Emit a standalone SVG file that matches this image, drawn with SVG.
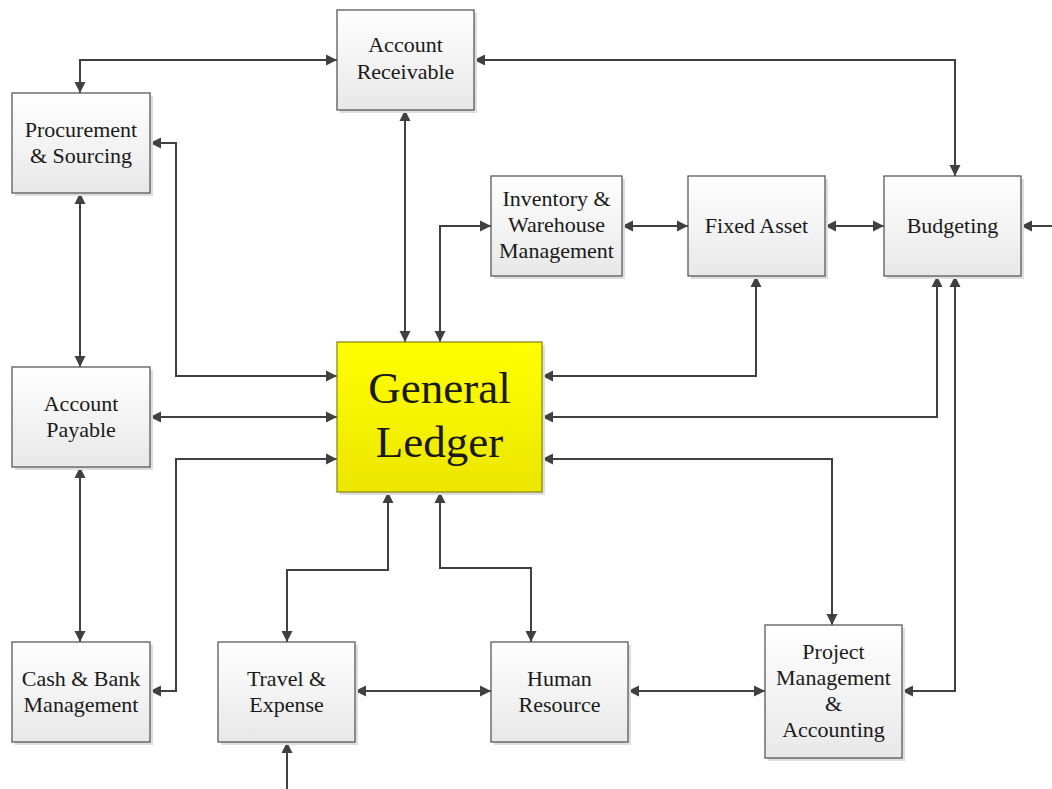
<svg xmlns="http://www.w3.org/2000/svg" width="1052" height="789" viewBox="0 0 1052 789">
<style>
.box{fill:url(#gbox);stroke:#595959;stroke-width:1.3}
.gl{fill:url(#gyel);stroke:#8a8a1a;stroke-width:1.3}
.sh{fill:#dedede}
.t{font-family:"Liberation Serif","Times New Roman",serif;font-size:22px;fill:#1a1a1a;text-anchor:middle}
.tg{font-family:"Liberation Serif","Times New Roman",serif;font-size:45px;fill:#1a1a1a;text-anchor:middle}
.c{fill:none;stroke:#404040;stroke-width:2;marker-end:url(#ah)}
.c2{marker-start:url(#ah)}
</style>
<defs>
<linearGradient id="gbox" x1="0" y1="0" x2="0" y2="1"><stop offset="0" stop-color="#ffffff"/><stop offset="1" stop-color="#e8e8e8"/></linearGradient>
<linearGradient id="gyel" x1="0" y1="0" x2="0" y2="1"><stop offset="0" stop-color="#ffff00"/><stop offset="1" stop-color="#ece600"/></linearGradient>
<marker id="ah" markerUnits="userSpaceOnUse" markerWidth="12" markerHeight="12" viewBox="0 0 12 12" refX="11" refY="6" orient="auto-start-reverse"><path d="M0,0.5 L11,6 L0,11.5 z" fill="#404040"/></marker>
</defs>
<rect width="1052" height="789" fill="#ffffff"/>
<g id="connectors">
<path class="c c2" d="M337,60 H80 V93"/>
<path class="c c2" d="M474,60 H955 V176"/>
<path class="c c2" d="M405,110 V342"/>
<path class="c c2" d="M150,143 H176 V376 H337"/>
<path class="c c2" d="M80,193 V367"/>
<path class="c c2" d="M150,417 H337"/>
<path class="c c2" d="M80,467 V642"/>
<path class="c c2" d="M150,691 H176 V459 H337"/>
<path class="c c2" d="M440,342 V226 H491"/>
<path class="c c2" d="M622,226 H688"/>
<path class="c c2" d="M825,226 H884"/>
<path class="c" d="M1052,226 H1021"/>
<path class="c c2" d="M756,276 V376 H542"/>
<path class="c c2" d="M937,276 V417 H542"/>
<path class="c c2" d="M955,276 V691 H902"/>
<path class="c c2" d="M542,459 H832 V625"/>
<path class="c c2" d="M388,492 V570 H287 V642"/>
<path class="c c2" d="M440,492 V568 H531 V642"/>
<path class="c c2" d="M355,691 H491"/>
<path class="c c2" d="M628,691 H765"/>
<path class="c" d="M287,789 V742"/>
</g>
<g id="account-receivable"><rect class="sh" x="340" y="13" width="137" height="100"/><rect class="box" x="337" y="10" width="137" height="100"/><text class="t" x="405.5" y="52">Account</text><text class="t" x="405.5" y="79">Receivable</text></g>
<g id="procurement"><rect class="sh" x="15" y="96" width="138" height="100"/><rect class="box" x="12" y="93" width="138" height="100"/><text class="t" x="81" y="137">Procurement</text><text class="t" x="81" y="163">&amp; Sourcing</text></g>
<g id="inventory"><rect class="sh" x="494" y="179" width="131" height="100"/><rect class="box" x="491" y="176" width="131" height="100"/><text class="t" x="556.5" y="206">Inventory &amp;</text><text class="t" x="556.5" y="232">Warehouse</text><text class="t" x="556.5" y="258">Management</text></g>
<g id="fixed-asset"><rect class="sh" x="691" y="179" width="137" height="100"/><rect class="box" x="688" y="176" width="137" height="100"/><text class="t" x="756.5" y="233">Fixed Asset</text></g>
<g id="budgeting"><rect class="sh" x="887" y="179" width="137" height="100"/><rect class="box" x="884" y="176" width="137" height="100"/><text class="t" x="952.5" y="233">Budgeting</text></g>
<g id="general-ledger"><rect class="sh" x="340" y="345" width="205" height="150"/><rect class="gl" x="337" y="342" width="205" height="150"/><text class="tg" x="439.5" y="403">General</text><text class="tg" x="439.5" y="457">Ledger</text></g>
<g id="account-payable"><rect class="sh" x="15" y="370" width="138" height="100"/><rect class="box" x="12" y="367" width="138" height="100"/><text class="t" x="81" y="411">Account</text><text class="t" x="81" y="437">Payable</text></g>
<g id="cash-bank"><rect class="sh" x="15" y="645" width="138" height="100"/><rect class="box" x="12" y="642" width="138" height="100"/><text class="t" x="81" y="686">Cash &amp; Bank</text><text class="t" x="81" y="712">Management</text></g>
<g id="travel-expense"><rect class="sh" x="221" y="645" width="137" height="100"/><rect class="box" x="218" y="642" width="137" height="100"/><text class="t" x="286.5" y="686">Travel &amp;</text><text class="t" x="286.5" y="712">Expense</text></g>
<g id="human-resource"><rect class="sh" x="494" y="645" width="137" height="100"/><rect class="box" x="491" y="642" width="137" height="100"/><text class="t" x="559.5" y="686">Human</text><text class="t" x="559.5" y="712">Resource</text></g>
<g id="project-management"><rect class="sh" x="768" y="628" width="137" height="133"/><rect class="box" x="765" y="625" width="137" height="133"/><text class="t" x="833.5" y="659">Project</text><text class="t" x="833.5" y="685">Management</text><text class="t" x="833.5" y="711">&amp;</text><text class="t" x="833.5" y="737">Accounting</text></g>
</svg>
